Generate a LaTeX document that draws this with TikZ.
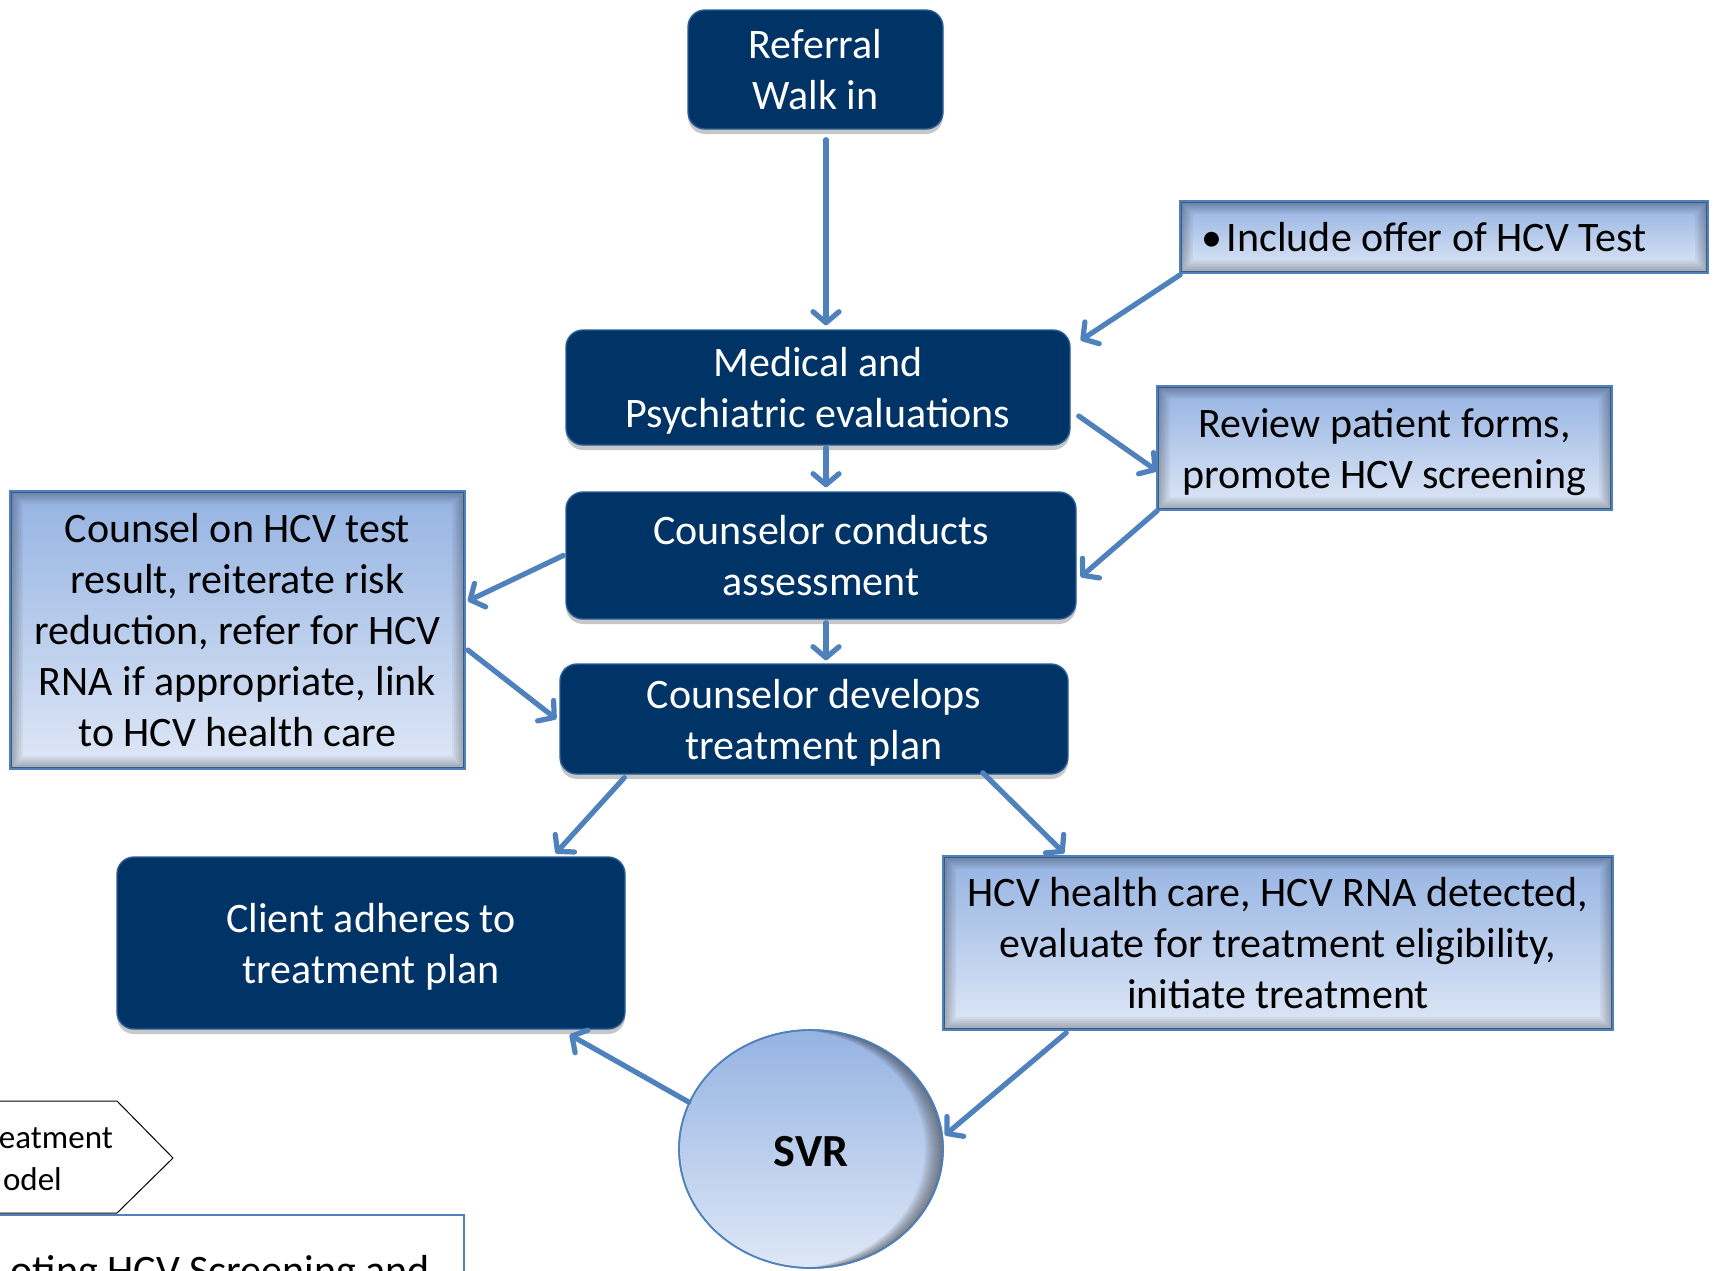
\documentclass[tikz,border=0pt]{standalone}
\usepackage{fontspec}
\setmainfont{Carlito}
\usetikzlibrary{arrows.meta,shadows,calc,shapes.geometric}
\definecolor{navy}{RGB}{0,51,102}
\definecolor{lineblue}{RGB}{79,129,189}
\definecolor{ltop}{RGB}{149,179,226}
\definecolor{lbot}{RGB}{222,231,246}
\newcommand\fs{\fontsize{42}{51}\selectfont}
\newcommand\nd[1]{\raisebox{0pt}[\height][0pt]{#1}}
\newcommand\innersh[1]{%
  \begin{scope}
    \clip (#1.south west) rectangle (#1.north east);
    \foreach \i in {1,...,7}{%
      \fill[black,opacity=0.045,even odd rule]
        ($(#1.south west)+(-20,20)$) rectangle ($(#1.north east)+(20,-20)$)
        ($(#1.south west)+(\i*1.8,-\i*1.8)$) rectangle ($(#1.north east)+(-\i*1.8,\i*1.8)$);}
  \end{scope}
  \draw[lineblue,line width=1.6pt] (#1.south west) rectangle (#1.north east);}
\begin{document}
\begin{tikzpicture}[x=1pt,y=-1pt,
  darkbox/.style={rectangle, rounded corners=17pt, fill=navy, draw=lineblue!55!navy,
    line width=1.4pt, text=white, align=center, font=\fs, inner sep=0pt,
    drop shadow={shadow xshift=0pt, shadow yshift=-5pt, opacity=0.22, fill=black}},
  lightbox/.style={rectangle, draw=lineblue, line width=1.6pt, top color=ltop,
    bottom color=lbot, text=black, align=center, font=\fs, inner sep=0pt},
  arr/.style={draw=lineblue, line width=5.2pt, line cap=round,
    -{Straight Barb[length=11pt,width=26pt,round]}}]
\useasboundingbox (0,0) rectangle (1716,1270);
\fill[white] (0,0) rectangle (1716,1270);

% dark boxes
\node[darkbox, minimum width=255pt, minimum height=119pt] (ref) at (815.5,69.5) {Referral\\Walk in};
\node[darkbox, minimum width=504pt, minimum height=115pt] (med) at (818,387.5) {Medical and\\\nd{Psychiatric evaluations}};
\node[darkbox, minimum width=510pt, minimum height=127pt] (cca) at (821,555.5) {Counselor conducts\\assessment};
\node[darkbox, minimum width=508pt, minimum height=110pt] (cdp) at (814,719) {Counselor develops\\\nd{treatment plan}};
\node[darkbox, minimum width=508pt, minimum height=172pt] (client) at (371,943) {Client adheres to\\\nd{treatment plan}};

% light boxes
\node[lightbox, minimum width=526pt, minimum height=70pt] (inc) at (1444,237)
  {\makebox[526pt][l]{\hspace{20pt}\textbullet\hspace{5pt}Include offer of HCV Test}};
\node[lightbox, minimum width=453pt, minimum height=122pt] (rev) at (1384.5,448) {Review patient forms,\\\nd{promote HCV screening}};
\node[lightbox, minimum width=453pt, minimum height=276pt] (coun) at (237.5,630) {Counsel on HCV test\\result, reiterate risk\\reduction, refer for HCV\\RNA if appropriate, link\\to HCV health care};
\node[lightbox, minimum width=668pt, minimum height=172pt] (hcv) at (1278,943) {HCV health care, HCV RNA detected,\\evaluate for treatment eligibility,\\initiate treatment};
\innersh{inc}
\innersh{rev}
\innersh{coun}
\innersh{hcv}

% SVR
\node[ellipse, draw=lineblue, line width=1.6pt, top color=ltop, bottom color=lbot,
  minimum width=264pt, minimum height=238pt, inner sep=0pt] (svr) at (811,1149) {};
\begin{scope}
  \clip (811,1149) ellipse [x radius=132, y radius=119];
  \foreach \s in {1.5,3,...,18}{%
    \fill[black!80,opacity=0.06,even odd rule] (600,950) rectangle (1000,1350)
      (811-\s,1149) ellipse [x radius=132, y radius=119];}
\end{scope}
\draw[lineblue,line width=1.6pt] (811,1149) ellipse [x radius=132, y radius=119];
\node[font=\fontsize{46}{52}\selectfont\bfseries] (svrt) at ([yshift=-3pt]svr.center) {SVR};

% bottom-left fragments
\draw[black, line width=1pt, fill=white] (-10,1101) -- (117,1101) -- (173,1158) -- (117,1213) -- (-10,1213) -- cycle;
\node[anchor=base east, font=\fontsize{33}{40}\selectfont, inner sep=0pt] (tr1) at (113,1148) {eatment};
\node[anchor=base east, font=\fontsize{33}{40}\selectfont, inner sep=0pt] (tr2) at (62,1190) {odel};
\draw[lineblue, line width=1.6pt, fill=white] (-10,1215) rectangle (464,1300);
\node[anchor=base east, font=\fs, inner sep=0pt] (scr) at (430,1284) {oting HCV Screening and};

% connectors
\draw[arr] ([xshift=10.5pt,yshift=-10pt]ref.south) -- ([xshift=8pt,yshift=4pt]med.north);
\draw[arr] ([yshift=-2pt]inc.south west) -- ([xshift=10pt,yshift=-11pt]med.north east);
\draw[arr] ([xshift=8pt,yshift=-28.5pt]med.east) -- ([yshift=-23pt]rev.west);
\draw[arr] ([yshift=-1pt]rev.south west) -- ([xshift=4pt,yshift=-21.5pt]cca.east);
\draw[arr] ([xshift=8pt,yshift=-2pt]med.south) -- ([xshift=5pt,yshift=4pt]cca.north);
\draw[arr] ([xshift=-2pt]cca.west) -- ([xshift=3pt,yshift=29pt]coun.east);
\draw[arr] ([xshift=3pt,yshift=-20pt]coun.east) -- ([xshift=-3pt]cdp.west);
\draw[arr] ([xshift=5pt,yshift=-3pt]cca.south) -- ([xshift=12pt,yshift=3pt]cdp.north);
\draw[arr] ([xshift=65pt,yshift=-3pt]cdp.south west) -- ([xshift=-70pt,yshift=3pt]client.north east);
\draw[arr] ([xshift=-86pt,yshift=2pt]cdp.south east) -- ([xshift=121pt,yshift=3pt]hcv.north west);
\draw[arr] ([xshift=123pt,yshift=-3pt]hcv.south west) -- ([xshift=2pt]svr.6);
\draw[arr] (svr.159) -- ([xshift=-56pt,yshift=-5pt]client.south east);
\end{tikzpicture}
\end{document}
